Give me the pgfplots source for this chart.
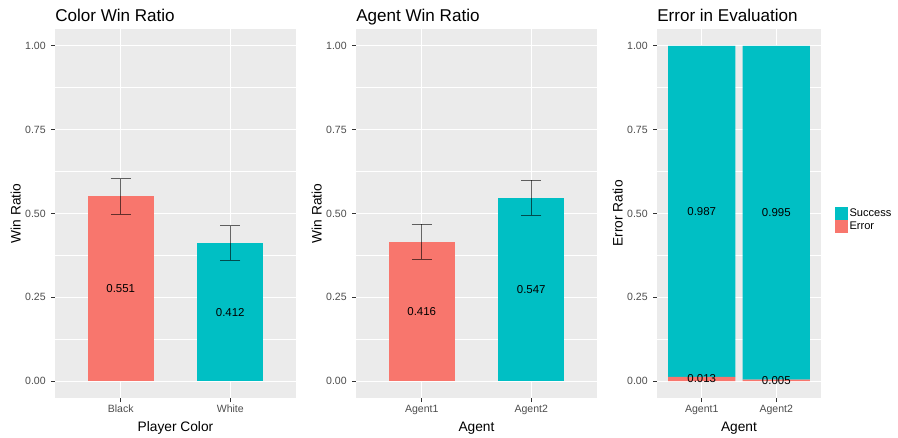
\documentclass[border=0pt]{standalone}
\usepackage{fontspec}
\setmainfont{Liberation Sans}
\usepackage{pgfplots}
\pgfplotsset{compat=1.18}

\definecolor{ggred}{HTML}{F8766D}
\definecolor{ggteal}{HTML}{00BFC4}
\definecolor{ggpanel}{HTML}{EBEBEB}
\definecolor{ggtick}{HTML}{4D4D4D}
\definecolor{ggaxis}{HTML}{333333}

\pgfplotsset{
  ggpanel/.style={
    scale only axis,
    height=276.75pt,
    xmin=0.4, xmax=2.6, ymin=-0.05, ymax=1.05,
    enlargelimits=false,
    axis background/.style={fill=ggpanel},
    axis line style={draw=none},
    xtick={1,2},
    ytick={0,0.25,0.5,0.75,1},
    minor ytick={0.125,0.375,0.625,0.875},
    grid=both,
    major grid style={white, line width=0.8pt},
    minor grid style={white, line width=0.4pt},
    minor tick length=0pt,
    major tick length=3pt,
    tick align=outside,
    xtick pos=left, ytick pos=left,
    tick style={ggaxis, line width=0.6pt},
    /pgf/number format/assume math mode=true,
    yticklabel style={/pgf/number format/fixed, /pgf/number format/fixed zerofill,
      /pgf/number format/precision=2, font=\fontsize{7.9}{9}\selectfont, color=ggtick,
      inner sep=1pt, xshift=-2.8pt},
    xticklabel style={font=\fontsize{7.9}{9}\selectfont, color=ggtick, inner sep=1pt,
      yshift=-1pt},
    title style={at={(0,1)}, anchor=base west, yshift=-0.3pt, inner sep=0pt,
      font=\fontsize{12.8}{15}\selectfont},
    xlabel style={at={(axis description cs:0.5,0)}, anchor=base, yshift=-25.3pt,
      inner sep=0pt, font=\fontsize{10.3}{12}\selectfont},
    ylabel style={at={([xshift=-25.7pt]axis description cs:0,0.5)}, anchor=base,
      inner sep=0pt, font=\fontsize{10.3}{12}\selectfont},
  },
  barlab/.style={only marks, mark=none, point meta=explicit symbolic,
    nodes near coords, nodes near coords style={anchor=center, black,
      font=\fontsize{8.6}{10}\selectfont}},
  errbar/.style={draw=none, mark=none, error bars/.cd, y dir=both, y explicit,
    error bar style={black, opacity=0.6, line width=0.6pt},
    error mark options={black, opacity=0.6, line width=0.6pt, mark size=7.5pt, rotate=90}},
}

\begin{document}
\begin{tikzpicture}
\path[use as bounding box, fill=white] (0,0) rectangle (673.5pt,-328.5pt);

% Color Win Ratio
\begin{axis}[ggpanel, width=180.75pt, at={(41.25pt,-21.75pt)}, anchor=north west,
  xticklabels={Black,White},
  title={Color Win Ratio}, xlabel={Player Color}, ylabel={Win Ratio}]
\addplot[ybar, bar width=0.6, bar shift=0pt, fill=ggred, draw=none] coordinates {(1,0.551)};
\addplot[ybar, bar width=0.6, bar shift=0pt, fill=ggteal, draw=none] coordinates {(2,0.412)};
\addplot[errbar] coordinates {(1,0.551) +- (0,0.0525) (2,0.412) +- (0,0.0515)};
\addplot[barlab] coordinates {(1,0.2755) [0.551] (2,0.206) [0.412]};
\end{axis}

% Agent Win Ratio
\begin{axis}[ggpanel, width=180.75pt, at={(267pt,-21.75pt)}, anchor=north west,
  xticklabels={Agent1,Agent2},
  title={Agent Win Ratio}, xlabel={Agent}, ylabel={Win Ratio}]
\addplot[ybar, bar width=0.6, bar shift=0pt, fill=ggred, draw=none] coordinates {(1,0.416)};
\addplot[ybar, bar width=0.6, bar shift=0pt, fill=ggteal, draw=none] coordinates {(2,0.547)};
\addplot[errbar] coordinates {(1,0.416) +- (0,0.0525) (2,0.547) +- (0,0.052)};
\addplot[barlab] coordinates {(1,0.208) [0.416] (2,0.2735) [0.547]};
\end{axis}

% Error in Evaluation
\begin{axis}[ggpanel, width=123pt, at={(492.75pt,-21.75pt)}, anchor=north west,
  xticklabels={Agent1,Agent2},
  title={Error in Evaluation}, xlabel={Agent}, ylabel={Error Ratio},
  ybar stacked, bar width=0.9,
  reverse legend,
  legend image code/.code={\fill[#1] (0pt,-4.875pt) rectangle (9.25pt,4.875pt);},
  legend style={draw=none, fill=none, at={(1.085,0.482)}, anchor=west,
    font=\fontsize{8.3}{9.75}\selectfont, row sep=0pt, inner sep=0pt,
    nodes={inner xsep=1.5pt, inner ysep=0pt, text height=7.2pt, text depth=2.55pt}},
  legend cell align=left]
\addplot[fill=ggred, draw=none, point meta=explicit symbolic, nodes near coords,
  nodes near coords style={anchor=center, black, font=\fontsize{8.6}{10}\selectfont}]
  coordinates {(1,0.013) [0.013] (2,0.005) [0.005]};
\addlegendentry{Error}
\addplot[fill=ggteal, draw=none, point meta=explicit symbolic, nodes near coords,
  nodes near coords style={anchor=center, black, font=\fontsize{8.6}{10}\selectfont}]
  coordinates {(1,0.987) [0.987] (2,0.995) [0.995]};
\addlegendentry{Success}
\end{axis}
\end{tikzpicture}
\end{document}
